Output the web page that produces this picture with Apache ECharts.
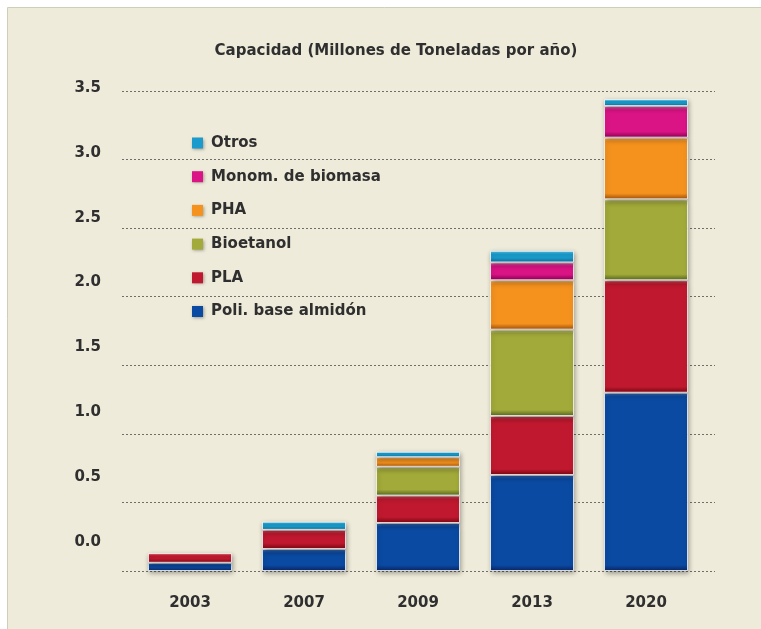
<!DOCTYPE html>
<html>
<head>
<meta charset="utf-8">
<script src="https://cdn.jsdelivr.net/npm/echarts@6/dist/echarts.min.js"></script>
<style>
html,body{margin:0;padding:0;background:#ffffff;}
#main{width:761px;height:629px;}
</style>
</head>
<body>
<div id="main"></div>
<script>
const categories = ['2003', '2007', '2009', '2013', '2020'];
const tickLabels = ['0.0', '0.5', '1.0', '1.5', '2.0', '2.5', '3.0', '3.5'];
const seriesNames = ['Poli. base almidón', 'PLA', 'Bioetanol', 'PHA', 'Monom. de biomasa', 'Otros'];
const poli      = [0.06, 0.16, 0.35, 0.70, 1.30];
const pla       = [0.07, 0.14, 0.20, 0.43, 0.82];
const bioetanol = [null, null, 0.21, 0.63, 0.59];
const pha       = [null, null, 0.07, 0.36, 0.45];
const monom     = [null, null, null, 0.13, 0.23];
const otros     = [null, 0.06, 0.04, 0.085, 0.05];
const title = 'Capacidad (Millones de Toneladas por año)';

const values = [poli, pla, bioetanol, pha, monom, otros];
const palette = [
  ['#3D72C2', '#0B4AA2', '#0A2565'],
  ['#D84C58', '#C0192F', '#7A0712'],
  ['#C4CA74', '#A2AA3A', '#55661E'],
  ['#FBB256', '#F5921E', '#A04E08'],
  ['#F064B2', '#DB1486', '#8A0050'],
  ['#56C2E8', '#1A9BCB', '#0E6A95']
];
const FONT = 'DejaVu Sans';
const TXT = '#2f2f2f';
const PX_PER_UNIT = 480 / 3.5;

const chart = echarts.init(document.getElementById('main'), null, {renderer: 'canvas'});

function grad(c, v) {
  const h = Math.max(v * PX_PER_UNIT, 1);
  const top = Math.min(4 / h, 0.3);
  const bot = Math.min(6 / h, 0.4);
  return new echarts.graphic.LinearGradient(0, 0, 0, 1, [
    {offset: 0, color: c[0]},
    {offset: top, color: c[1]},
    {offset: 1 - bot, color: c[1]},
    {offset: 1, color: c[2]}
  ]);
}

const series = values.map((arr, i) => ({
  name: seriesNames[i],
  type: 'bar',
  stack: 'total',
  xAxisIndex: 0,
  yAxisIndex: 0,
  barWidth: 84,
  data: arr.map(v => v == null ? null : {value: v, itemStyle: {color: grad(palette[i], v)}}),
  itemStyle: {
    color: palette[i][1],
    borderColor: 'rgba(255,255,255,0.75)',
    borderWidth: 1,
    shadowColor: 'rgba(0,0,0,0.35)',
    shadowBlur: 5,
    shadowOffsetX: 1,
    shadowOffsetY: 2
  },
  emphasis: {disabled: true}
}));

const option = {
  animation: false,
  backgroundColor: '#ffffff',
  graphic: [{
    type: 'rect',
    z: -10,
    silent: true,
    shape: {x: 7.5, y: 7.5, width: 760, height: 630},
    style: {fill: '#EEEBDA', stroke: '#CDD0B5', lineWidth: 1}
  }],
  title: {
    text: title,
    left: 391,
    textAlign: 'center',
    top: 39,
    textStyle: {fontFamily: FONT, fontWeight: 'bold', fontSize: 15, color: TXT}
  },
  legend: {
    data: seriesNames.slice().reverse(),
    orient: 'vertical',
    left: 192,
    top: 135,
    padding: 0,
    itemGap: 17.7,
    itemWidth: 11,
    itemHeight: 11,
    icon: 'rect',
    itemStyle: {borderWidth: 0, shadowColor: 'rgba(0,0,0,0.35)', shadowBlur: 3, shadowOffsetX: 1, shadowOffsetY: 1},
    textStyle: {fontFamily: FONT, fontWeight: 'bold', fontSize: 15, color: TXT, lineHeight: 16, padding: [0, 0, 0, 3]}
  },
  grid: [
    {left: 133, right: 58, top: 91, bottom: 58},
    {left: 122, right: 46, top: 91, bottom: 58},
    {left: 110, width: 10, top: 88, bottom: 87}
  ],
  xAxis: [
    {
      gridIndex: 0,
      type: 'category',
      data: categories,
      axisLine: {show: false},
      axisTick: {show: false},
      axisLabel: {margin: 25, fontFamily: FONT, fontWeight: 'bold', fontSize: 15, color: TXT}
    },
    {gridIndex: 1, type: 'value', min: 0, max: 1, show: false},
    {gridIndex: 2, type: 'value', min: 0, max: 1, show: false}
  ],
  yAxis: [
    {gridIndex: 0, type: 'value', min: 0, max: 3.5, interval: 0.5, show: false},
    {
      gridIndex: 1, type: 'value', min: 0, max: 3.5, interval: 0.5,
      axisLine: {show: false}, axisTick: {show: false}, axisLabel: {show: false},
      splitLine: {show: true, lineStyle: {color: '#6f6f6a', width: 1, type: [2, 2]}}
    },
    {
      gridIndex: 2, type: 'value', min: 0, max: 3.5, interval: 0.5,
      axisLine: {show: false}, axisTick: {show: false}, splitLine: {show: false},
      axisLabel: {
        margin: 9, fontFamily: FONT, fontWeight: 'bold', fontSize: 15, color: TXT,
        formatter: v => tickLabels[Math.round(v / 0.5)]
      }
    }
  ],
  series: series
};
chart.setOption(option);
</script>
</body>
</html>
